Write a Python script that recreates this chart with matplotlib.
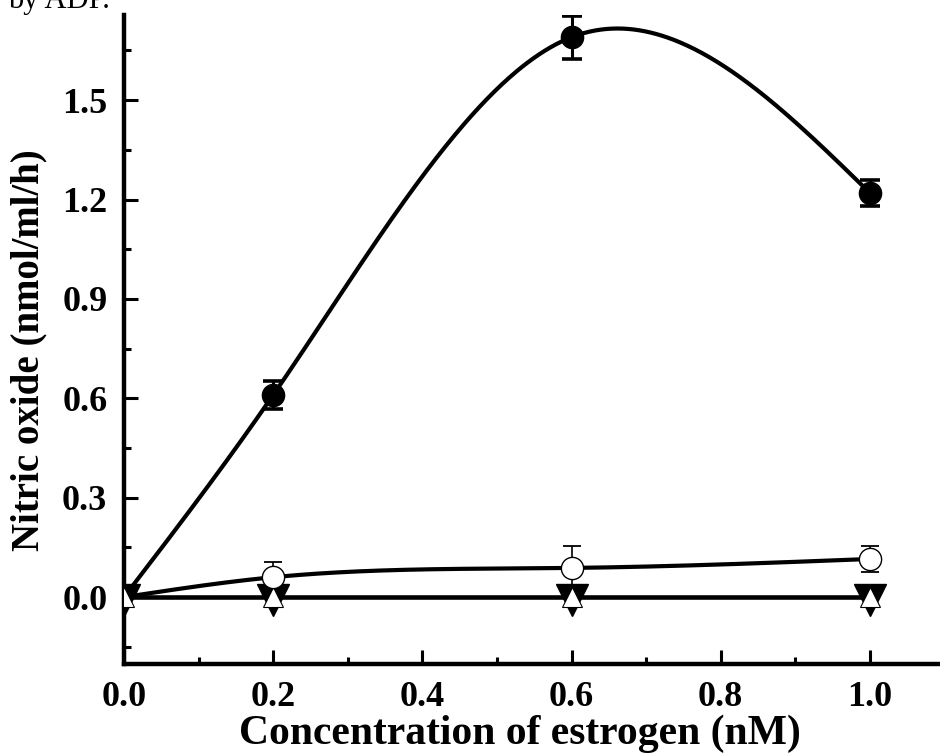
import numpy as np
import matplotlib
matplotlib.use("Agg")
import matplotlib.pyplot as plt
from matplotlib.ticker import MultipleLocator, FormatStrFormatter

# Estrogen concentration (nM)
conc = [0.0, 0.2, 0.6, 1.0]

# Nitric oxide production (nmol/ml/h)
no_estrogen = [0.0, 0.61, 1.69, 1.22]          # filled circles
no_estrogen_err = [0.0, 0.043, 0.065, 0.04]
no_inhibited = [0.0, 0.06, 0.088, 0.115]       # open circles
no_inhibited_err = [0.0, 0.045, 0.066, 0.039]
no_down = [-0.01, -0.01, -0.01, -0.01]         # filled down triangles
no_up = [0.0, 0.0, 0.0, 0.0]                   # open up triangles

x_ticks = [0.0, 0.2, 0.4, 0.6, 0.8, 1.0]
y_ticks = [0.0, 0.3, 0.6, 0.9, 1.2, 1.5]


def natural_spline(x, y, xs):
    """Natural cubic spline through (x, y), evaluated at xs."""
    x = np.asarray(x, float)
    y = np.asarray(y, float)
    n = len(x)
    h = np.diff(x)
    A = np.zeros((n, n))
    b = np.zeros(n)
    A[0, 0] = A[-1, -1] = 1.0
    for i in range(1, n - 1):
        A[i, i - 1] = h[i - 1]
        A[i, i] = 2 * (h[i - 1] + h[i])
        A[i, i + 1] = h[i]
        b[i] = 6 * ((y[i + 1] - y[i]) / h[i] - (y[i] - y[i - 1]) / h[i - 1])
    M = np.linalg.solve(A, b)
    idx = np.clip(np.searchsorted(x, xs) - 1, 0, n - 2)
    x0, x1 = x[idx], x[idx + 1]
    hh = x1 - x0
    t0 = x1 - xs
    t1 = xs - x0
    return (M[idx] * t0 ** 3 / (6 * hh) + M[idx + 1] * t1 ** 3 / (6 * hh)
            + (y[idx] / hh - M[idx] * hh / 6) * t0
            + (y[idx + 1] / hh - M[idx + 1] * hh / 6) * t1)


serif = ["Liberation Serif", "DejaVu Serif"]
plt.rcParams["font.family"] = serif

fig = plt.figure(figsize=(9.4, 7.56), dpi=100)
ax = fig.add_axes([124 / 940, 1 - 664 / 756, 1 - 124 / 940, (664 - 15) / 756])

xs = np.linspace(conc[0], conc[-1], 400)
ax.plot(xs, natural_spline(conc, no_estrogen, xs), color="black", lw=3.0, zorder=2)
ax.plot(xs, natural_spline(conc, no_inhibited, xs), color="black", lw=3.0, zorder=2)
ax.plot(xs, natural_spline(conc, no_up, xs), color="black", lw=3.3, zorder=2)

# error bars
ax.errorbar(conc[1:], no_inhibited[1:], yerr=no_inhibited_err[1:], fmt="none",
            ecolor="black", elinewidth=1.2, capsize=6.5, capthick=1.3, zorder=3)
ax.errorbar(conc[1:], no_estrogen[1:], yerr=no_estrogen_err[1:], fmt="none",
            ecolor="black", elinewidth=2.2, capsize=7, capthick=2.6, zorder=3)

# markers
ax.plot(conc, no_down, linestyle="none", marker="v", ms=23, mfc="black",
        mec="black", zorder=4)
ax.plot(conc, no_up, linestyle="none", marker="^", ms=14, mfc="white",
        mec="black", mew=0.8, zorder=5)
ax.plot(conc[1:], no_inhibited[1:], linestyle="none", marker="o", ms=16,
        mfc="white", mec="black", mew=1.0, zorder=5)
ax.plot(conc[1:], no_estrogen[1:], linestyle="none", marker="o", ms=16,
        mfc="black", mec="black", zorder=5)

ax.set_xlim(0, 1.094)
ax.set_ylim(-0.202, 1.757)

for side in ("top", "right"):
    ax.spines[side].set_visible(False)
for side in ("left", "bottom"):
    ax.spines[side].set_linewidth(3.2)

ax.set_xticks(x_ticks)
ax.set_yticks(y_ticks)
ax.xaxis.set_minor_locator(MultipleLocator(0.1))
ax.yaxis.set_minor_locator(MultipleLocator(0.15))
ax.xaxis.set_major_formatter(FormatStrFormatter("%.1f"))
ax.yaxis.set_major_formatter(FormatStrFormatter("%.1f"))
ax.tick_params(which="major", direction="in", length=10, width=2.2, pad=12,
               labelsize=26)
ax.tick_params(which="minor", direction="in", length=5, width=2.2)
for lab in ax.get_xticklabels() + ax.get_yticklabels():
    lab.set_fontweight("bold")

ax.set_xlabel("Concentration of estrogen (nM)", fontsize=30, fontweight="bold")
ax.set_ylabel("Nitric oxide (nmol/ml/h)", fontsize=28, fontweight="bold")
ax.xaxis.label.set_va("center")
ax.yaxis.label.set_va("center")
ax.xaxis.set_label_coords(0.485, -0.107)
ax.yaxis.set_label_coords(-0.116, 0.484)

fig.text(8 / 940, 1 - 8 / 756, "by ADP.", fontsize=22, va="baseline",
         ha="left")

fig.savefig("out.png", dpi=100)
